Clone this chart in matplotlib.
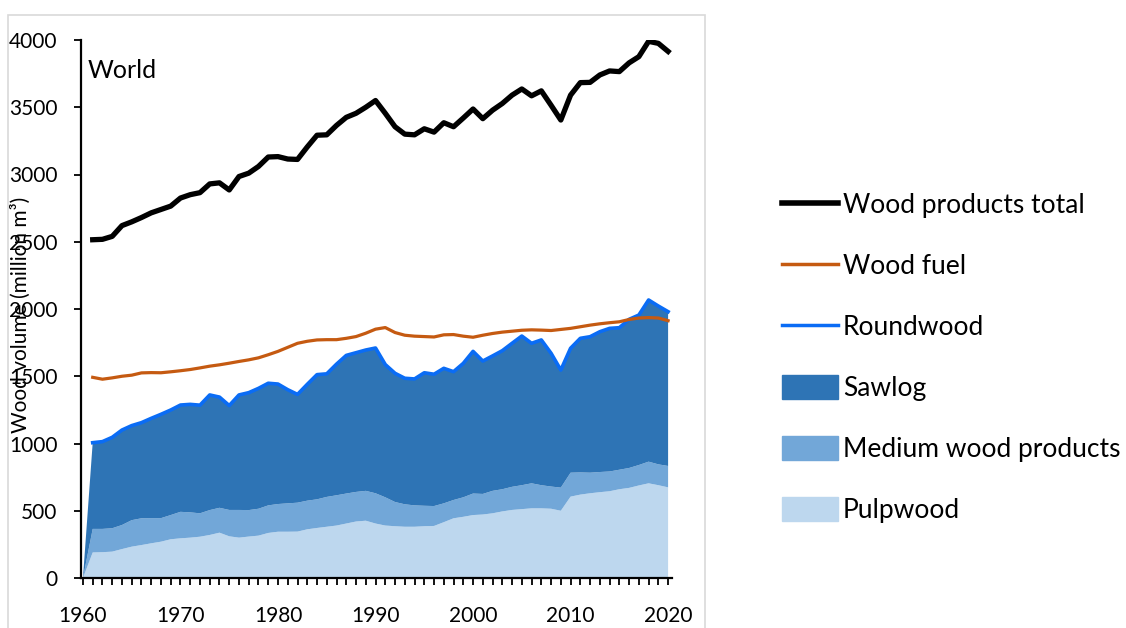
import numpy as np
import matplotlib
matplotlib.use("Agg")
import matplotlib.pyplot as plt
from matplotlib.lines import Line2D
from matplotlib.patches import Patch, Rectangle

plt.rcParams['font.family'] = ['Lato', 'DejaVu Sans']

years = list(range(1960, 2021))

# stacked areas start with 0 in 1960 (no data)
pulpwood = [0, 190, 192, 196, 215, 233, 245, 258, 270, 288, 295, 300, 307, 320, 337, 310, 300, 308, 315, 335,
            344, 344, 345, 362, 372, 381, 390, 405, 420, 426, 405, 390, 385, 381, 381, 385, 387, 415, 444, 455,
            468, 472, 481, 495, 506, 512, 518, 518, 515, 500, 605, 620, 630, 638, 645, 660, 670, 688, 704, 690, 674]
pulp_medium = [0, 365, 365, 370, 394, 430, 444, 445, 445, 468, 492, 488, 481, 505, 522, 506, 506, 505, 515, 540,
               550, 555, 560, 575, 585, 603, 615, 628, 640, 648, 630, 600, 565, 548, 540, 537, 535, 555, 580, 600,
               628, 625, 648, 660, 678, 690, 704, 690, 680, 672, 783, 785, 783, 788, 792, 805, 818, 840, 865, 845, 833]
roundwood = [0, 1006, 1014, 1046, 1100, 1133, 1155, 1187, 1217, 1249, 1286, 1291, 1285, 1361, 1345, 1282, 1361,
             1378, 1410, 1448, 1442, 1400, 1365, 1440, 1512, 1518, 1590, 1655, 1675, 1695, 1710, 1587, 1522, 1485,
             1480, 1526, 1515, 1559, 1534, 1596, 1685, 1613, 1651, 1690, 1745, 1799, 1745, 1770, 1671, 1546, 1708,
             1782, 1794, 1831, 1856, 1861, 1923, 1955, 2067, 2022, 1980]
wood_fuel = [1492, 1478, 1488, 1500, 1508, 1525, 1527, 1526, 1533, 1541, 1550, 1562, 1575, 1585, 1597, 1610,
             1622, 1637, 1660, 1685, 1715, 1745, 1760, 1770, 1772, 1772, 1782, 1795, 1820, 1850, 1862, 1825, 1805,
             1798, 1795, 1792, 1808, 1810, 1798, 1790, 1805, 1818, 1828, 1835, 1842, 1845, 1843, 1840, 1848, 1856,
             1868, 1880, 1890, 1898, 1905, 1922, 1933, 1936, 1933, 1913]
total = [2515, 2518, 2540, 2620, 2648, 2680, 2715, 2740, 2765, 2825, 2850, 2865, 2930, 2938, 2885, 2985, 3010,
         3060, 3130, 3133, 3115, 3112, 3205, 3292, 3295, 3365, 3425, 3455, 3500, 3550, 3455, 3355, 3300, 3295,
         3340, 3315, 3385, 3355, 3420, 3487, 3415, 3478, 3528, 3590, 3636, 3585, 3622, 3515, 3405, 3590, 3683,
         3685, 3740, 3770, 3765, 3830, 3876, 3990, 3975, 3915]

medium = np.array(pulp_medium) - np.array(pulpwood)
sawlog = np.array(roundwood) - np.array(pulp_medium)
line_years = years[1:]

c_pulp = '#BDD7EE'
c_med = '#72A7D8'
c_saw = '#2E74B5'
c_round = '#0A6CF5'
c_fuel = '#C55A11'

fig = plt.figure(figsize=(11.26, 6.28), dpi=100)
# panel borders
fig.patches.append(Rectangle((8 / 1126, -0.01), (705 - 8) / 1126, 1 - 15 / 628 + 0.01,
                             transform=fig.transFigure, fill=False, ec='#D9D9D9', lw=1.2))

ax = fig.add_axes([81 / 1126, 1 - 578 / 628, (672 - 81) / 1126, (578 - 40) / 628])
ax.stackplot(years, pulpwood, medium, sawlog, colors=[c_pulp, c_med, c_saw], lw=0)
ax.plot(line_years, roundwood[1:], color=c_round, lw=2.6)
ax.plot(line_years, wood_fuel, color=c_fuel, lw=2.3)
ax.plot(line_years, total, color='black', lw=3.8)

ax.set_xlim(1959.8, 2020.4)
ax.set_ylim(0, 4000)
ax.set_yticks(range(0, 4001, 500))
ax.set_xticks(range(1960, 2021, 10))
ax.set_xticks(range(1960, 2021), minor=True)
for s in ['top', 'right']:
    ax.spines[s].set_visible(False)
for s in ['left', 'bottom']:
    ax.spines[s].set_linewidth(1.6)
ax.tick_params(axis='both', which='both', direction='out', length=5, width=1.3, labelsize=15, colors='black')
ax.tick_params(axis='x', pad=15)
ax.tick_params(axis='y', pad=12)
ax.set_ylabel('Wood volume (million m³)', fontsize=15)
ax.yaxis.set_label_coords(-0.085, 0.49)
ax.text(0.012, 0.965, 'World', transform=ax.transAxes, fontsize=18, va='top', ha='left')

handles = [Line2D([], [], color='black', lw=4),
           Line2D([], [], color=c_fuel, lw=2.5),
           Line2D([], [], color=c_round, lw=2.5),
           Patch(color=c_saw),
           Patch(color=c_med),
           Patch(color=c_pulp)]
labels = ['Wood products total', 'Wood fuel', 'Roundwood', 'Sawlog', 'Medium wood products', 'Pulpwood']
fig.legend(handles, labels, loc='upper left', bbox_to_anchor=(769 / 1126, 1 - 179 / 628),
           frameon=False, fontsize=19, handlelength=2.1, handleheight=1.0, handletextpad=0.2,
           labelspacing=1.33, borderpad=0)

fig.savefig('out.png', dpi=100)
